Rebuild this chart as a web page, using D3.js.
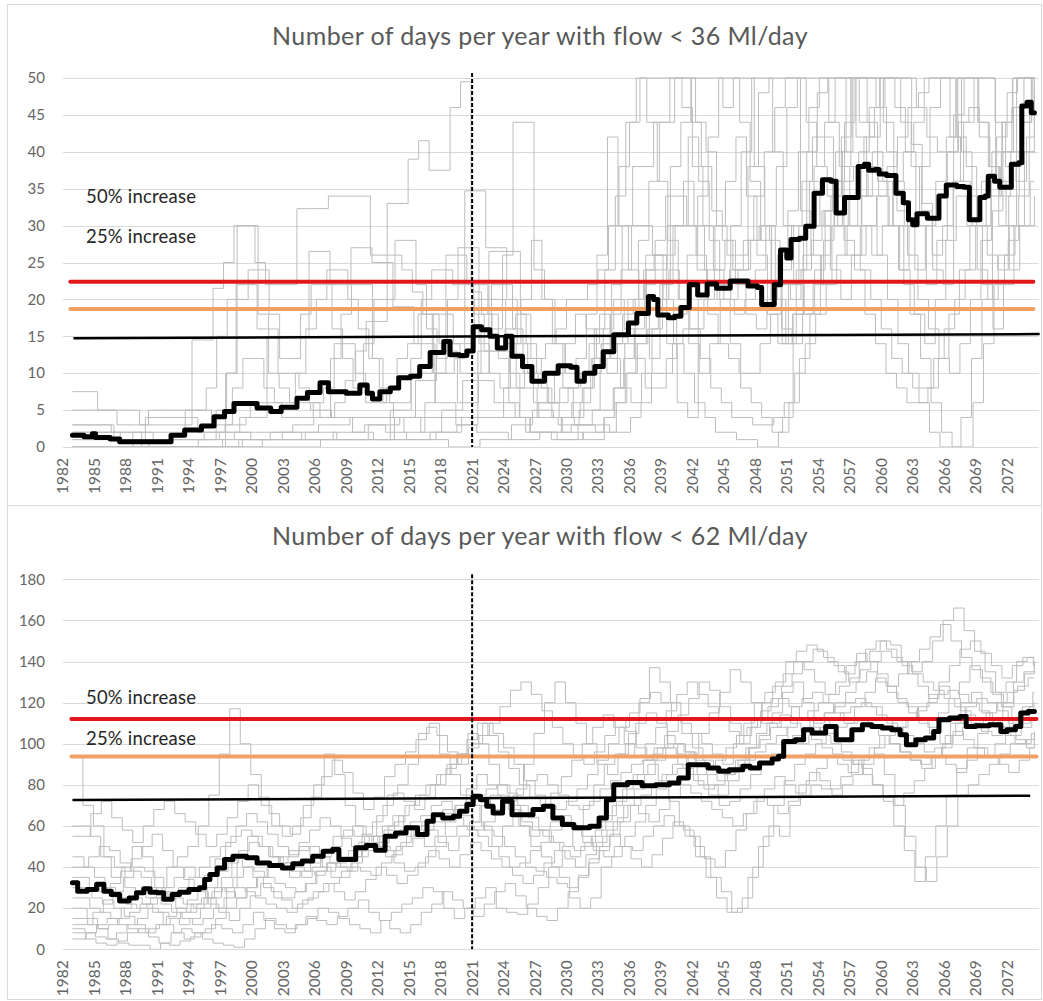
<!DOCTYPE html>
<html>
<head>
<meta charset="utf-8">
<script src="https://cdn.jsdelivr.net/npm/d3@7"></script>
<style>
  body { margin: 0; background: #fff; }
  text { font-family: Lato, "Open Sans", sans-serif; }
</style>
</head>
<body>
<div id="chart"></div>
<script>
// ---- data ----
var tickYears = [1982,1985,1988,1991,1994,1997,2000,2003,2006,2009,2012,2015,2018,2021,
                 2024,2027,2030,2033,2036,2039,2042,2045,2048,2051,2054,2057,2060,2063,2066,2069,2072];
var yTicksTop = [0,5,10,15,20,25,30,35,40,45,50];
var yTicksBottom = [0,20,40,60,80,100,120,140,160,180];

var titleTop = "Number of days per year with flow < 36 Ml/day";
var titleBottom = "Number of days per year with flow < 62 Ml/day";
var labels = ["50% increase", "25% increase"];
var labelValsTop = [33.1, 27.7];
var labelValsBottom = [119.3, 99.4];

var presentYear = 2021;
var memberStart = 1982.9, memberEnd = 2074.6;
// month offsets of each ensemble member's yearly window (as fraction of a year)
var memberPhase = [0, 0.4, 0.7, 0.2, 0.55, 0.85, 0.3, 0.65, 0.1, 0.45, 0.75, 0.25, 0.6, 0.95];

// ensemble members, one value per year from 1983 to 2074 (clipped at axis max in the picture)
var membersTop = [
  [0,0,0,0,0,0,0,0,0,0, 0,0,1,1,2,2,2,1,1,1, 2,3,3,4,4,6,9,13,17,17,
   33,33,39,41.5,37.5,37.5,46,49.5,21,18, 16,26,44,44,24,20,14,10,12,18, 26,42,30,24,18,12,22,38,44,50,
   50,50,46,50,50,38,30,20,14,24, 40,48,50,50,50,44,42,50,50,50, 41,33,24,22,45,50,50,50,36,30, 50,50],
  [7.5,7.5,5,5,5,5,3,3,3,3, 3,14.5,14.5,21.5,25,30,30,25,22,22, 22,32.3,32.3,32.3,34,34,34,34,26,26,
   26,24,21,18,10,10,12,34.7,34.7,27, 27,20,14,10,8,6,4,4,6,10, 14,22,30,38,38,44,44,50,50,44,
   40,30,26,26,38,48,50,50,50,32, 26,22,30,40,50,50,50,50,46,40, 30,22,28,40,50,50,44,38,34,38, 44,50],
  [3,3,3,2,2,2,2,1,1,1, 1,1,1,5,10,30,30,18,10,8, 6,6,5,5,4,4,2,2,1,1,
   4,4,9,9,13,13,6,6,10,26.5, 26.5,26.5,18,12,8,4,2,2,1,1, 4,6,10,14,24,24,30,30,42,36,
   28,20,14,8,6,4,2,4,18,30, 38,44,50,50,42,34,26,20,14,10, 6,2,0,0,4,12,20,32,40,46, 50,50],
  [0,0,0,0,0,0,0,0,0,0, 0,0,0,0,0,0,1,1,1,1, 1,1,2,2,2,1,1,1,3,3,
   3,4,4,2,2,5,5,9,9,9, 6,6,4,2,2,2,1,1,3,3, 3,2,2,4,6,10,10,14,16,16,
   20,24,28,22,18,16,20,26,32,40, 46,50,50,50,38,30,26,30,36,40, 44,50,50,50,42,38,30,26,24,28, 34,40],
  [2,2,2,2,1,1,1,1,1,1, 1,1,2,2,3,3,4,4,15,15, 15,15,26.5,26.5,22,22,27,27,25,25,
   19,19,14,14,6,6,3,3,2,2, 2,1,1,1,2,2,2,3,3,5, 5,8,12,16,22,28,34,34,30,24,
   18,14,12,10,10,14,18,24,30,36, 42,42,36,28,24,18,14,10,8,6, 6,8,12,18,24,30,30,34,40,46, 46,50],
  [0,0,0,0,0,0,0,0,0,0, 0,0,0,0,0,1,1,1,2,2, 2,1,1,1,2,2,2,3,3,2,
   2,1,1,1,1,0,0,0,1,1, 1,3,3,5,5,4,4,3,3,2, 2,6,10,14,16,20,24,20,16,12,
   8,6,4,4,3,3,4,6,10,14, 18,22,26,30,34,38,34,30,24,18, 12,6,2,0,0,6,14,22,26,30, 30,34],
  [1,1,1,1,1,1,1,0,0,0, 0,0,0,0,1,1,1,1,1,1, 1,1,1,1,1,1,1,1,1,1,
   5,5,10,10,18,18,14,14,20,20, 20,14,8,8,4,4,3,3,5,5, 12,18,24,30,30,26,20,14,10,6,
   4,2,2,1,1,0,0,2,6,12, 18,26,34,42,50,50,50,44,36,30, 24,30,36,42,50,50,44,38,30,24, 30,36],
  [0,0,0,0,0,0,0,0,0,0, 0,0,0,0,0,0,0,0,0,0, 0,0,0,1,1,1,1,1,1,1,
   1,1,1,1,2,2,3,3,13,13, 13,10,4,2,2,1,1,1,2,2, 4,8,14,20,26,26,14,6,4,20,
   22,22,24,24,28,30,22,14,18,26, 30,32,30,26,26,30,34,38,42,46, 48,50,50,42,36,34,36,40,44,50, 50,50],
  [0,0,0,0,0,0,0,0,0,0, 0,0,0,0,0,0,0,0,1,1, 1,1,1,1,1,1,1,1,1,1,
   1,1,1,1,2,2,2,4,4,4, 4,8,8,12,12,14,16,20,20,22, 24,30,38,44,50,50,50,50,46,38,
   30,24,20,18,20,24,30,38,46,50, 50,50,44,38,30,24,20,16,12,10, 8,8,12,16,20,24,30,36,42,48, 50,50],
  [1,1,1,1,1,1,1,1,1,1, 1,1,1,1,1,2,2,2,2,2, 2,2,2,3,3,3,4,4,4,4,
   4,4,4,4,4,4,4,4,4,4, 4,4,4,4,6,6,8,8,10,12, 14,14,18,20,24,26,26,30,30,26,
   22,20,20,24,28,30,28,22,20,24, 28,32,36,36,38,42,46,50,50,50, 46,42,40,40,44,46,42,38,36,40, 44,50],
  [0,0,0,0,0,2,2,2,2,2, 5,5,8,15,20,20,24,24,18,12, 12,18,22,22,16,12,8,14,20,20,
   28,28,22,16,12,20,27,27,14,10, 8,14,20,28,20,14,8,4,8,16, 24,34,44,50,44,36,28,20,14,10,
   14,20,30,40,50,50,40,30,22,18, 24,32,40,50,50,44,36,30,24,30, 38,46,50,50,40,30,22,16,22,30, 40,48],
  [5,5,5,5,3,3,3,5,5,5, 5,5,5,3,3,8,12,12,8,6, 6,10,16,20,24,24,20,16,12,8,
   6,6,12,20,24,24,22,22,18,13, 13,16,18,14,10,6,6,8,10,14, 18,12,8,6,10,16,22,30,36,30,
   24,30,36,42,34,26,18,14,22,30, 36,30,24,20,26,34,40,36,30,22, 18,14,20,28,34,30,24,20,26,34, 40,46],
  [2,2,2,2,2,2,0,0,0,0, 0,0,0,0,10,22,22,16,16,10, 10,8,6,4,12,18,22,22,12,6,
   4,2,2,6,10,26,26,22,22,18, 12,6,4,2,2,2,4,6,8,12, 16,20,16,12,8,8,12,18,26,34,
   42,50,50,44,36,28,20,16,14,18, 22,28,36,44,50,50,46,40,32,26, 20,16,12,10,14,20,28,36,44,50, 50,50],
  [3,3,3,1,1,1,4,4,4,4, 4,2,2,2,2,4,6,6,6,4, 4,4,6,8,14,14,10,6,6,8,
   12,14,18,18,14,14,10,10,16,22, 22,16,10,6,6,10,14,18,16,12, 10,14,20,28,36,44,50,50,44,38,
   32,28,24,28,34,40,46,50,50,44, 38,34,30,34,40,46,50,50,44,38, 32,26,30,36,44,50,50,44,38,36, 42,50]
];

var membersBottom = [
  [94,70,60,45,40,30,28,25,30,40, 45,50,60,75,95,117,100,85,70,60, 55,60,70,80,95,85,70,60,55,65,
   75,80,90,105,110,95,85,75,70,60, 50,60,75,90,105,120,130,120,110,100, 90,85,95,105,120,137,130,120,110,105,
   100,95,90,100,110,120,125,130,140,145, 148,145,140,135,130,140,145,150,148,140, 135,140,150,160,166,155,145,135,125,130, 140,142],
  [20,15,10,5,3,2,2,0,3,8, 10,8,5,3,2,1,5,10,15,12, 10,12,15,20,18,15,12,10,8,14,
   18,22,25,30,28,20,15,20,25,30, 20,18,17,22,30,40,35,25,20,25, 40,45,50,48,55,60,65,60,55,45,
   35,25,18,20,35,50,60,55,70,75, 80,78,75,80,85,90,95,85,70,55, 40,33,45,60,75,80,85,90,95,100, 100,105],
  [60,55,45,35,40,50,45,35,30,35, 40,35,25,20,30,45,55,50,45,40, 35,38,42,45,50,55,60,55,50,58,
   62,70,75,80,85,90,95,105,100,90, 80,70,60,50,45,40,50,60,70,80, 90,95,100,110,115,110,100,90,95,105,
   115,125,136,130,120,110,115,125,130,120, 110,115,120,125,130,135,130,125,120,115, 110,105,100,110,120,125,115,110,120,130, 135,140],
  [10,8,6,5,8,12,15,20,18,15, 12,15,20,25,35,45,40,35,30,25, 25,28,32,38,42,40,38,45,50,52,
   55,58,62,65,70,72,68,65,62,58, 55,50,45,40,38,35,32,30,35,42, 48,55,62,70,75,80,85,90,88,82,
   78,80,85,92,98,105,110,108,102,100, 104,108,112,115,118,120,118,112,108,104, 100,96,98,104,110,118,122,120,116,110, 112,118],
  [40,45,50,48,42,38,35,30,28,25, 22,20,25,30,28,25,30,35,40,42, 45,48,50,45,42,40,45,50,55,60,
   65,60,55,50,55,62,70,78,85,80, 75,68,60,55,58,62,65,60,55,50, 55,62,70,78,85,92,98,95,90,85,
   80,75,82,90,98,102,108,112,118,122, 125,120,115,110,118,125,132,128,122,118, 112,108,115,122,130,138,132,125,118,112, 118,125],
  [30,25,22,28,35,40,38,30,25,20, 18,22,30,38,42,48,52,50,45,40, 38,35,40,48,55,58,55,50,48,45,
   50,55,60,58,52,48,55,62,70,75, 72,68,62,58,55,52,50,48,52,58, 65,72,80,85,90,82,72,60,55,45,
   35,28,18,25,40,55,70,82,90,95, 100,105,108,110,112,108,104,100,96,92, 90,94,98,104,108,110,112,108,104,100, 102,106],
  [5,8,12,15,12,10,8,10,12,15, 18,22,25,28,30,35,40,38,35,32, 30,28,32,38,42,45,48,52,55,50,
   48,52,58,62,65,68,64,60,58,62, 68,72,78,82,85,80,75,70,68,72, 78,82,86,90,92,95,98,100,96,92,
   88,92,98,104,108,112,118,122,118,112, 108,104,100,96,90,85,80,72,60,48, 33,45,60,75,88,98,105,110,112,108, 110,112],
  [25,20,18,15,20,25,22,18,12,8, 5,8,10,15,20,25,30,35,40,45, 48,50,45,40,35,38,42,48,52,48,
   42,38,40,45,50,55,60,58,55,50, 45,40,42,48,52,58,62,58,52,48, 45,50,55,62,70,78,85,88,85,80,
   75,70,72,78,85,90,95,100,104,108, 112,115,118,120,122,118,114,110,108,112, 118,124,128,122,116,110,106,104,108,112, 116,120],
  [45,40,35,30,25,22,20,22,25,28, 30,35,40,45,50,55,58,55,50,45, 42,40,38,36,38,42,45,48,50,55,
   60,65,70,75,80,85,90,95,100,110, 105,98,90,82,75,70,68,72,78,85, 92,100,108,115,122,125,120,112,105,98,
   92,88,85,88,92,96,100,104,108,112, 116,120,124,128,132,136,140,145,142,138, 134,130,126,122,118,114,112,115,120,125, 128,132],
  [15,12,10,12,15,18,22,25,22,18, 15,12,15,20,25,30,28,25,22,20, 18,22,25,28,32,35,40,38,36,42,
   46,50,54,58,62,66,70,72,75,78, 80,76,70,64,58,52,48,45,50,55, 62,70,78,85,92,98,104,100,96,90,
   85,82,86,92,98,104,110,114,110,106, 102,98,95,92,90,94,98,104,108,112, 116,120,124,126,124,120,116,112,108,104, 108,112],
  [55,66,72,64,58,52,60,68,72,66, 62,56,50,56,64,72,80,74,66,60, 56,64,74,84,92,86,76,68,74,84,
   90,96,102,108,104,96,90,98,104,110, 118,126,130,124,116,108,100,94,90,96, 104,112,106,98,92,98,106,114,122,130,
   126,118,110,104,112,120,128,134,140,136, 130,124,130,138,144,140,134,128,134,140, 146,152,158,150,142,136,130,124,118,126, 134,140],
  [8,5,3,2,4,8,10,6,3,2, 4,6,8,12,10,8,12,18,14,10, 8,12,16,14,12,16,20,24,18,14,
   10,8,12,18,22,28,24,20,16,22, 28,32,26,20,16,14,20,28,36,44, 50,56,50,44,40,46,54,62,58,50,
   44,40,48,58,66,74,70,66,72,80, 86,82,78,84,92,88,80,74,70,76, 82,88,94,90,86,92,98,94,90,86, 92,98],
  [35,30,28,32,38,44,50,56,48,40, 34,30,36,44,52,60,66,62,56,50, 46,52,58,64,60,54,50,56,62,70,
   76,72,68,74,80,88,95,102,110,104, 96,88,80,74,70,76,84,92,100,108, 114,108,100,94,100,108,116,124,130,124,
   118,112,106,100,108,116,122,128,134,140, 146,142,138,134,140,146,150,146,140,134, 128,122,130,138,146,150,144,138,132,138, 142,138],
  [12,18,24,20,16,12,8,12,16,20, 24,28,22,18,14,20,26,32,28,24, 20,24,28,32,28,24,28,34,40,36,
   32,36,42,48,44,40,46,52,48,44, 40,36,32,36,42,48,44,40,46,52, 58,64,70,66,62,68,74,80,76,72,
   68,64,60,66,72,78,84,80,76,82, 88,94,90,86,92,98,104,100,96,92, 88,94,100,106,102,98,94,100,106,102, 98,104]
];

// ensemble mean [year, days]
var meanTop = [[1982.9,1.6],[1984.0,1.4],[1984.8,1.8],[1985.1,1.3],[1986.5,1.1],[1987.4,0.7],[1992.3,1.6],[1993.6,2.3],
  [1995.2,2.85],[1996.4,4.1],[1997.4,4.8],[1998.3,5.9],[2000.5,5.3],[2001.8,4.8],[2002.8,5.4],[2004.3,6.6],[2005.3,7.4],
  [2006.5,8.7],[2007.3,7.5],[2009.0,7.3],[2010.3,8.4],[2011.0,7.3],[2011.5,6.5],[2012.2,7.5],[2013.2,8],[2014.0,9.4],
  [2015.1,9.6],[2016.0,10.9],[2017.0,12.8],[2018.3,14.3],[2018.9,12.5],[2019.8,12.4],[2020.5,13],[2021.1,16.3],
  [2021.9,15.9],[2022.7,15.0],[2023.4,13.4],[2024.2,15],[2024.8,12.3],[2025.8,10.9],[2026.7,8.9],[2027.9,10],
  [2029.2,11],[2030.4,10.8],[2031.0,8.9],[2031.7,10],[2032.7,10.9],[2033.5,12.9],[2034.5,15.2],[2035.9,16.8],
  [2036.7,18.1],[2037.8,20.4],[2038.3,20],[2038.7,17.9],[2039.7,17.5],[2040.3,17.7],[2040.9,18.9],[2041.7,22],
  [2042.5,20.6],[2043.4,22.1],[2044.3,21.5],[2045.6,22.5],[2047.3,21.8],[2048.2,21.6],[2048.6,19.3],[2049.8,22],
  [2050.4,26.7],[2051.0,25.6],[2051.4,28.1],[2052.2,28.3],[2052.8,29.9],[2053.6,34.4],[2054.4,36.2],[2055.2,36],
  [2055.7,31.7],[2056.5,33.8],[2057.8,38],[2058.4,38.3],[2058.8,37.5],[2059.4,37.6],[2059.8,37],[2060.5,36.8],
  [2061.4,34.4],[2062.1,33.1],[2062.6,30.8],[2063.0,30.1],[2063.4,31.6],[2064.4,31],[2065.5,34],[2066.2,35.5],
  [2067.2,35.3],[2067.9,35.2],[2068.4,30.8],[2069.4,33.8],[2069.9,34],[2070.2,36.7],[2070.8,36],[2071.3,35.2],
  [2072.4,38.3],[2073.1,38.5],[2073.4,46.2],[2073.9,46.7],[2074.3,45.3],[2074.6,45.3]];

var meanBottom = [[1982.9,32.4],[1983.4,28.3],[1984.3,29.1],[1985.2,31.6],[1985.9,28.3],[1986.6,26.7],[1987.4,23.5],
  [1988.3,25],[1989.0,27.5],[1989.7,29.4],[1990.3,27.8],[1991.0,27.5],[1991.6,24.3],[1992.4,26.7],[1993.1,27.8],
  [1994.0,29.1],[1995.0,29.9],[1995.5,34],[1996.0,36.4],[1996.7,39.6],[1997.4,43.7],[1998.2,45.3],[1999.5,44.5],
  [2000.5,42],[2001.7,40.8],[2002.9,39.6],[2003.9,41.6],[2004.8,42.9],[2005.8,45.3],[2006.8,47.7],[2007.7,48.5],
  [2008.3,43.7],[2009.9,49.4],[2010.9,50.5],[2011.8,48.2],[2012.7,55],[2013.7,56.6],[2014.7,59.1],[2015.8,55.8],
  [2016.7,62.3],[2017.3,65.5],[2018.2,63.9],[2019.2,64.7],[2019.8,67.2],[2020.5,70.4],[2021.1,74.4],[2021.8,72.8],
  [2022.4,69.6],[2023.0,66.3],[2023.9,72],[2024.8,65.5],[2026.8,68],[2027.8,69.6],[2028.7,63.9],[2029.6,60.7],
  [2030.7,59.1],[2032.2,59.9],[2033.1,63.9],[2033.8,72.8],[2034.5,80.1],[2035.8,81.2],[2037.2,79.6],[2038.5,80.1],
  [2039.8,80.9],[2040.7,83.3],[2041.6,89.8],[2043.5,88.2],[2044.5,86.6],[2045.5,87.4],[2046.8,89],[2047.5,88.2],
  [2048.4,90.6],[2049.6,92.6],[2050.2,93.9],[2050.7,101.1],[2051.8,101.9],[2052.6,106.8],[2053.4,105.2],[2054.7,108.4],
  [2055.7,101.9],[2057.2,106.8],[2058.2,109.2],[2059.1,108.4],[2060.1,107.6],[2061.0,106.8],[2061.8,104.4],[2062.4,99.5],
  [2063.3,101.9],[2064.2,102.8],[2065.0,106],[2065.5,111.7],[2066.5,112.5],[2067.5,113.3],[2068.1,108.4],[2069.0,108.7],
  [2070.3,109.2],[2071.4,106],[2072.0,106.8],[2072.8,108.4],[2073.3,114.9],[2074.0,115.7],[2074.6,115.7]];

// baseline trend, +25% and +50% lines [year, days]
var baseTop = [[1983.0,14.75],[2075.1,15.3]];
var plus25Top = [[1982.7,18.7],[2074.5,18.7]];
var plus50Top = [[1982.7,22.4],[2074.5,22.4]];
var baseBottom = [[1982.9,72.6],[2074.2,74.7]];
var plus25Bottom = [[1982.8,93.8],[2074.8,93.8]];
var plus50Bottom = [[1982.8,112],[2074.8,112]];

// ---- drawing ----
var width = 1043, height = 1001;

var svg = d3.select("#chart").append("svg")
    .attr("width", width)
    .attr("height", height);

var x = d3.scaleLinear().domain([1982, 2075]).range([63, 1038.6]);

function drawPanel(p) {
  var g = svg.append("g");
  var y = d3.scaleLinear().domain([0, p.yMax]).range([p.bottom, p.top]);

  g.append("rect")
      .attr("x", 7.5).attr("y", p.boxTop + 0.5)
      .attr("width", 1034).attr("height", p.boxHeight)
      .attr("fill", "#fff").attr("stroke", "#d9d9d9");

  g.append("text")
      .attr("x", 540).attr("y", p.titleY)
      .attr("text-anchor", "middle")
      .attr("font-size", 25)
      .attr("letter-spacing", 0.4)
      .attr("fill", "#595959")
      .text(p.title);

  // gridlines
  g.selectAll(".grid").data(p.yTicks).enter().append("line")
      .attr("x1", x.range()[0]).attr("x2", x.range()[1])
      .attr("y1", function(d) { return Math.round(y(d)) + 0.5; })
      .attr("y2", function(d) { return Math.round(y(d)) + 0.5; })
      .attr("stroke", "#d9d9d9").attr("stroke-width", 1);

  // y labels
  g.selectAll(".ylab").data(p.yTicks).enter().append("text")
      .attr("x", 45).attr("y", function(d) { return y(d); })
      .attr("dy", "0.35em")
      .attr("text-anchor", "end")
      .attr("font-size", 15)
      .attr("fill", "#666")
      .text(function(d) { return d; });

  // x labels
  g.selectAll(".xlab").data(tickYears).enter().append("text")
      .attr("transform", function(d) { return "translate(" + x(d) + "," + (p.bottom + 11) + ") rotate(-90)"; })
      .attr("dy", "0.35em")
      .attr("text-anchor", "end")
      .attr("font-size", 15.5)
      .attr("fill", "#666")
      .text(function(d) { return d; });

  var clipId = "clip" + p.boxTop;
  svg.append("clipPath").attr("id", clipId).append("rect")
      .attr("x", x.range()[0]).attr("y", p.top - 1)
      .attr("width", x.range()[1] - x.range()[0] + 4).attr("height", p.bottom - p.top + 1);

  var step = d3.line()
      .x(function(d) { return x(d[0]); })
      .y(function(d) { return y(d[1]); })
      .curve(d3.curveStepAfter);

  var straight = d3.line()
      .x(function(d) { return x(d[0]); })
      .y(function(d) { return y(d[1]); });

  var members = g.append("g").attr("clip-path", "url(#" + clipId + ")");
  p.members.forEach(function(vals, k) {
    var pts = vals.map(function(v, i) {
      var t = i === 0 ? memberStart : Math.min(memberStart + i + memberPhase[k], memberEnd);
      return [t, v];
    });
    pts.push([memberEnd, vals[vals.length - 1]]);
    members.append("path")
        .attr("d", step(pts))
        .attr("fill", "none")
        .attr("stroke", "#bdbdbd")
        .attr("stroke-width", 1);
  });

  // threshold lines
  g.append("path").attr("d", straight(p.plus50)).attr("fill", "none")
      .attr("stroke", "#e3161c").attr("stroke-width", 4).attr("stroke-linecap", "round");
  g.append("path").attr("d", straight(p.plus25)).attr("fill", "none")
      .attr("stroke", "#f0a064").attr("stroke-width", 4).attr("stroke-linecap", "round");
  g.append("path").attr("d", straight(p.base)).attr("fill", "none")
      .attr("stroke", "#000").attr("stroke-width", 2.5);

  // present day
  g.append("line")
      .attr("x1", x(presentYear)).attr("x2", x(presentYear))
      .attr("y1", p.top - 5).attr("y2", p.bottom)
      .attr("stroke", "#000").attr("stroke-width", 2)
      .attr("stroke-dasharray", "4,2");

  // ensemble mean
  g.append("path")
      .attr("d", step(p.mean))
      .attr("fill", "none")
      .attr("stroke", "#000")
      .attr("stroke-width", 5)
      .attr("stroke-linejoin", "round")
      .attr("stroke-linecap", "round");

  g.selectAll(".ann").data(labels).enter().append("text")
      .attr("x", 86)
      .attr("y", function(d, i) { return y(p.labelVals[i]); })
      .attr("font-size", 18.5)
      .attr("letter-spacing", 0.2)
      .attr("fill", "#262626")
      .text(function(d) { return d; });
}

drawPanel({
  boxTop: 4, boxHeight: 501, titleY: 45, title: titleTop,
  top: 78, bottom: 447, yMax: 50, yTicks: yTicksTop,
  members: membersTop, mean: meanTop,
  base: baseTop, plus25: plus25Top, plus50: plus50Top, labelVals: labelValsTop
});

drawPanel({
  boxTop: 505, boxHeight: 494, titleY: 545, title: titleBottom,
  top: 579.3, bottom: 949.3, yMax: 180, yTicks: yTicksBottom,
  members: membersBottom, mean: meanBottom,
  base: baseBottom, plus25: plus25Bottom, plus50: plus50Bottom, labelVals: labelValsBottom
});
</script>
</body>
</html>
